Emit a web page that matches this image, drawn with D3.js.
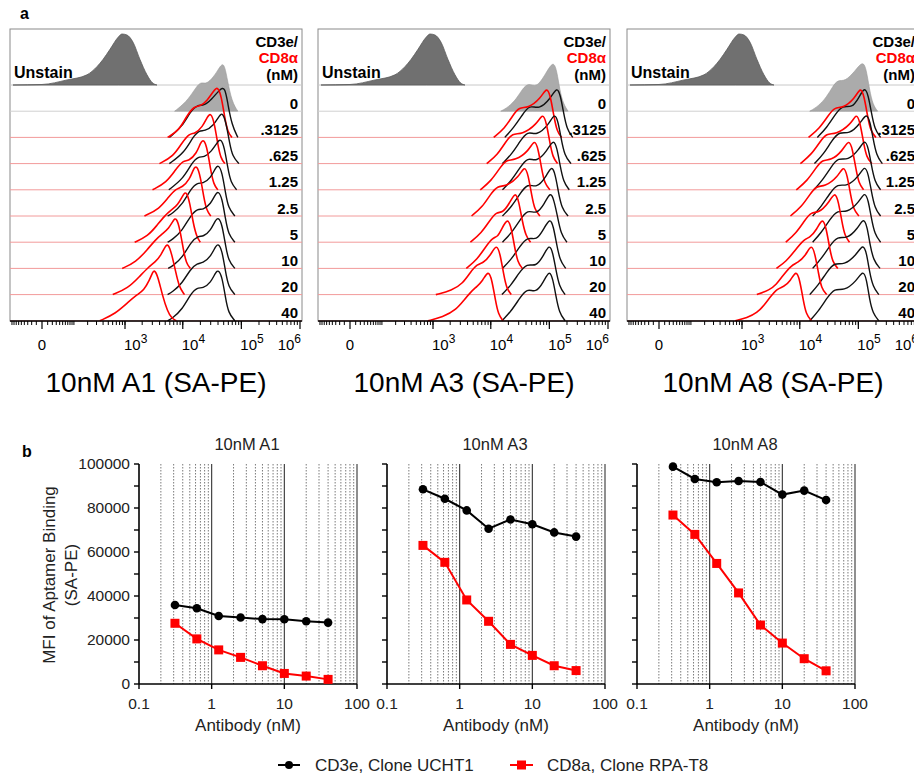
<!DOCTYPE html>
<html>
<head>
<meta charset="utf-8">
<script src="https://cdnjs.cloudflare.com/ajax/libs/d3/7.8.5/d3.min.js"></script>
<style>
body{margin:0;background:#fff;}
svg text{font-family:"Liberation Sans",Arial,sans-serif;}
</style>
</head>
<body>
<svg id="fig" width="914" height="776"></svg>
<script>
// ---------- panel a data ----------
var rowLabels = ["0", ".3125", ".625", "1.25", "2.5", "5", "10", "20", "40"];
var histTitles = ["10nM A1 (SA-PE)", "10nM A3 (SA-PE)", "10nM A8 (SA-PE)"];
var histDecades = [3, 4, 5, 6];

// unstained cells : [intensity, % of max]
var unstain = [[-85,0],[0,1],[67,10],[194,20],[306,36],[398,50],[537,70],[760,94],[884,100],[1084,98],[1384,84],[1832,50],[2424,20],[3040,4],[3600,0]];

// stained rows : [log10 intensity, % of max]
var a1Gray = [[3.86,0],[4.06,18],[4.20,42],[4.30,58],[4.39,53],[4.49,62],[4.60,80],[4.70,100],[4.76,62],[4.84,18],[4.94,0]];
var a1Black = [
 [[3.77,0],[3.99,21],[4.13,51],[4.25,64],[4.36,62],[4.49,74],[4.63,94],[4.72,100],[4.77,65],[4.84,24],[4.94,0]],
 [[3.77,0],[4.03,22],[4.17,52],[4.29,66],[4.37,63],[4.53,75],[4.63,95],[4.68,100],[4.74,80],[4.80,40],[4.85,14],[4.96,0]],
 [[3.76,0],[4.01,22],[4.15,52],[4.27,66],[4.36,63],[4.49,75],[4.60,95],[4.65,100],[4.71,84],[4.77,42],[4.82,14],[4.92,0]],
 [[3.74,0],[3.82,5],[3.99,22],[4.13,52],[4.25,66],[4.34,63],[4.48,75],[4.56,95],[4.61,100],[4.67,87],[4.73,45],[4.78,15],[4.89,0]],
 [[3.74,0],[3.82,5],[3.99,22],[4.13,52],[4.26,66],[4.34,63],[4.48,75],[4.56,95],[4.61,100],[4.67,87],[4.73,45],[4.78,15],[4.89,0]],
 [[3.75,0],[3.83,5],[4.00,22],[4.14,52],[4.27,64],[4.35,62],[4.48,75],[4.56,95],[4.61,100],[4.67,87],[4.73,45],[4.78,15],[4.89,0]],
 [[3.74,0],[3.82,5],[3.99,22],[4.13,50],[4.25,62],[4.34,61],[4.48,75],[4.56,95],[4.61,100],[4.67,87],[4.73,45],[4.78,15],[4.89,0]],
 [[3.74,0],[3.82,5],[3.99,22],[4.13,52],[4.25,66],[4.34,63],[4.48,75],[4.56,95],[4.61,100],[4.67,87],[4.73,45],[4.78,15],[4.89,0]]
];
var a1Red = [
 [[3.74,0],[3.94,14],[4.06,41],[4.20,62],[4.29,60],[4.42,72],[4.53,92],[4.60,100],[4.66,80],[4.72,36],[4.77,10],[4.84,0]],
 [[3.60,0],[3.84,14],[3.98,40],[4.12,60],[4.20,58],[4.34,72],[4.42,92],[4.48,100],[4.54,80],[4.60,36],[4.65,10],[4.72,0]],
 [[3.48,0],[3.72,14],[3.88,40],[4.01,58],[4.10,56],[4.24,72],[4.30,92],[4.36,100],[4.42,80],[4.48,36],[4.53,10],[4.60,0]],
 [[3.34,0],[3.60,14],[3.76,38],[3.89,54],[3.99,56],[4.12,72],[4.18,92],[4.24,100],[4.30,78],[4.36,36],[4.41,10],[4.48,0]],
 [[3.17,0],[3.40,12],[3.55,32],[3.69,52],[3.81,64],[3.91,72],[4.01,94],[4.06,100],[4.12,78],[4.18,36],[4.24,10],[4.30,0]],
 [[2.95,0],[3.19,12],[3.40,38],[3.53,56],[3.65,68],[3.76,78],[3.84,95],[3.89,100],[3.95,78],[4.01,36],[4.06,10],[4.13,0]],
 [[2.78,0],[3.05,12],[3.26,36],[3.41,54],[3.53,64],[3.63,78],[3.70,95],[3.75,100],[3.81,80],[3.88,44],[3.94,14],[4.03,0]],
 [[2.54,0],[2.83,14],[3.05,36],[3.22,52],[3.33,60],[3.43,80],[3.48,95],[3.52,100],[3.58,84],[3.65,50],[3.74,18],[3.81,5],[3.89,0]]
];

var a3Gray = [[4.17,0],[4.30,8],[4.44,24],[4.54,44],[4.65,56],[4.78,45],[4.94,74],[5.07,100],[5.13,78],[5.18,40],[5.24,14],[5.32,0]];
var a3Black = [
 [[4.24,0],[4.39,19],[4.53,42],[4.66,65],[4.82,54],[5.02,76],[5.13,100],[5.19,82],[5.24,50],[5.30,15],[5.40,0]],
 [[4.20,0],[4.36,19],[4.49,42],[4.63,65],[4.78,54],[4.99,76],[5.09,100],[5.15,82],[5.20,50],[5.26,15],[5.37,0]],
 [[4.20,0],[4.36,19],[4.49,42],[4.63,65],[4.78,54],[4.96,76],[5.07,100],[5.13,82],[5.18,50],[5.24,15],[5.34,0]],
 [[4.20,0],[4.36,19],[4.49,42],[4.63,65],[4.78,54],[4.94,76],[5.04,100],[5.10,82],[5.15,50],[5.21,15],[5.32,0]],
 [[4.20,0],[4.36,19],[4.49,42],[4.63,65],[4.78,54],[4.92,76],[5.02,100],[5.08,82],[5.14,50],[5.20,15],[5.30,0]],
 [[4.20,0],[4.36,19],[4.49,42],[4.63,63],[4.78,54],[4.90,76],[5.01,100],[5.07,82],[5.12,50],[5.18,15],[5.28,0]],
 [[4.19,0],[4.35,19],[4.48,42],[4.62,62],[4.77,54],[4.90,76],[5.00,100],[5.06,82],[5.11,50],[5.17,15],[5.27,0]],
 [[4.19,0],[4.35,19],[4.48,42],[4.62,65],[4.77,54],[4.90,76],[5.00,100],[5.06,82],[5.11,50],[5.17,15],[5.27,0]]
];
var a3Red = [
 [[4.05,0],[4.24,18],[4.37,42],[4.49,60],[4.63,57],[4.85,76],[4.96,100],[5.02,80],[5.08,40],[5.13,12],[5.21,0]],
 [[3.93,0],[4.12,18],[4.25,42],[4.37,60],[4.53,57],[4.78,76],[4.89,100],[4.95,80],[5.01,40],[5.06,12],[5.14,0]],
 [[3.82,0],[4.01,18],[4.15,42],[4.27,60],[4.41,57],[4.65,76],[4.75,100],[4.81,80],[4.87,40],[4.92,12],[5.01,0]],
 [[3.67,0],[3.86,18],[3.99,42],[4.12,60],[4.25,57],[4.48,76],[4.58,100],[4.64,80],[4.70,40],[4.75,12],[4.84,0]],
 [[3.65,0],[3.84,18],[3.98,42],[4.10,60],[4.20,57],[4.32,76],[4.42,100],[4.48,80],[4.54,40],[4.60,12],[4.68,0]],
 [[3.58,0],[3.77,18],[3.91,42],[4.03,60],[4.12,62],[4.18,76],[4.29,100],[4.35,80],[4.41,40],[4.46,12],[4.54,0]],
 [[3.05,0],[3.33,8],[3.52,22],[3.65,44],[3.77,60],[3.87,62],[3.99,76],[4.10,100],[4.16,80],[4.22,40],[4.27,12],[4.35,0]],
 [[2.91,0],[3.17,7],[3.41,22],[3.55,42],[3.67,58],[3.75,66],[3.86,78],[3.96,100],[4.02,80],[4.08,40],[4.13,12],[4.21,0]]
];

var a8Gray = [[4.17,0],[4.32,10],[4.46,28],[4.56,48],[4.65,62],[4.77,58],[4.94,78],[5.08,100],[5.14,80],[5.19,42],[5.25,12],[5.33,0]];
var a8Black = [
 [[4.30,0],[4.46,19],[4.60,44],[4.73,64],[4.89,57],[5.01,78],[5.11,100],[5.17,82],[5.22,50],[5.28,15],[5.38,0]],
 [[4.25,0],[4.41,19],[4.54,44],[4.68,64],[4.84,57],[5.03,78],[5.14,100],[5.20,82],[5.25,50],[5.31,15],[5.41,0]],
 [[4.24,0],[4.39,19],[4.53,44],[4.66,64],[4.82,57],[5.01,78],[5.11,100],[5.17,82],[5.22,50],[5.28,15],[5.38,0]],
 [[4.22,0],[4.37,19],[4.51,44],[4.65,64],[4.80,57],[5.01,78],[5.11,100],[5.17,82],[5.22,50],[5.28,15],[5.38,0]],
 [[4.22,0],[4.37,19],[4.51,44],[4.65,64],[4.80,57],[5.01,78],[5.11,100],[5.17,82],[5.22,48],[5.28,15],[5.38,0]],
 [[4.22,0],[4.37,19],[4.51,44],[4.65,64],[4.80,57],[4.99,78],[5.09,100],[5.15,82],[5.20,46],[5.26,15],[5.37,0]],
 [[4.17,0],[4.32,19],[4.46,44],[4.60,64],[4.75,57],[4.97,78],[5.08,100],[5.14,82],[5.19,45],[5.25,15],[5.35,0]],
 [[4.17,0],[4.32,19],[4.46,44],[4.60,65],[4.75,58],[4.97,78],[5.08,100],[5.14,82],[5.19,42],[5.25,14],[5.35,0]]
];
var a8Red = [
 [[4.15,0],[4.34,18],[4.48,42],[4.60,60],[4.73,57],[4.94,76],[5.04,100],[5.10,80],[5.16,40],[5.21,12],[5.30,0]],
 [[4.01,0],[4.20,18],[4.34,42],[4.46,60],[4.61,57],[4.87,76],[4.97,100],[5.03,80],[5.09,40],[5.14,12],[5.23,0]],
 [[3.94,0],[4.13,18],[4.27,42],[4.39,60],[4.53,57],[4.73,76],[4.84,100],[4.90,80],[4.96,40],[5.01,12],[5.09,0]],
 [[3.84,0],[4.03,18],[4.17,42],[4.29,60],[4.42,57],[4.65,76],[4.75,100],[4.81,80],[4.87,40],[4.92,12],[5.01,0]],
 [[3.76,0],[3.94,18],[4.08,42],[4.20,60],[4.32,57],[4.49,76],[4.60,100],[4.66,80],[4.72,40],[4.77,12],[4.85,0]],
 [[3.60,0],[3.77,14],[3.91,34],[4.08,58],[4.17,60],[4.29,76],[4.39,100],[4.45,80],[4.51,40],[4.56,12],[4.65,0]],
 [[3.26,0],[3.48,9],[3.60,20],[3.70,36],[3.86,58],[3.96,62],[4.10,76],[4.20,100],[4.26,80],[4.32,42],[4.37,12],[4.46,0]],
 [[2.88,0],[3.09,6],[3.26,15],[3.40,32],[3.48,45],[3.62,64],[3.72,66],[3.84,78],[3.94,100],[4.00,80],[4.06,40],[4.11,12],[4.20,0]]
];

// ---------- panel b data ----------
var antibodyNM = [0.3125, 0.625, 1.25, 2.5, 5, 10, 20, 40];
var a1CD3e = [35900, 34400, 30900, 30200, 29500, 29400, 28500, 27900];
var a1CD8a = [27600, 20500, 15500, 12100, 8300, 4800, 3600, 2100];
var a3CD3e = [88500, 84200, 78900, 70600, 74800, 72600, 68900, 67000];
var a3CD8a = [63000, 55300, 38200, 28500, 18000, 13000, 8300, 6100];
var a8CD3e = [98800, 93200, 91700, 92300, 91800, 86100, 87900, 83600];
var a8CD8a = [76800, 68000, 54800, 41400, 26800, 18600, 11500, 6000];
var mfiTitles = ["10nM A1", "10nM A3", "10nM A8"];
var mfiTicks = [0, 20000, 40000, 60000, 80000, 100000];
var antibodyTicks = [0.1, 1, 10, 100];
var legendNames = ["CD3e, Clone UCHT1", "CD8a, Clone RPA-T8"];

var svg = d3.select("#fig");

// ================= panel a =================
var histPanels = [
  {x: 10, gray: a1Gray, black: a1Black, red: a1Red},
  {x: 318, gray: a3Gray, black: a3Black, red: a3Red},
  {x: 627, gray: a8Gray, black: a8Black, red: a8Red}
];
var BOX_W = 292, BOX_TOP = 29, BOX_BOT = 321, UNSTAIN_BASE = 85, ROW_H = 26.2, PEAK_H = 51;

var hx = d3.scaleSymlog().constant(40).domain([0, 1e6]).range([32, 290]);
var hh = d3.scaleLinear().domain([0, 100]).range([0, PEAK_H]);

svg.append("text").attr("x", 20).attr("y", 19).attr("font-size", 16).attr("font-weight", "bold").text("a");

// minor tick values for the biexponential axis
var minorTicks = [];
for (var m = 1; m <= 9; m++) minorTicks.push(-m * 10);
for (var k = 1; k <= 5; k++) for (var m = 1; m <= 9; m++) minorTicks.push(m * Math.pow(10, k));

histPanels.forEach(function(p, pi) {
  var g = svg.append("g").attr("transform", "translate(" + p.x + ",0)");

  var lineLog = function(base) {
    return d3.line()
      .x(function(d) { return hx(Math.pow(10, d[0])); })
      .y(function(d) { return base - hh(d[1]); })
      .curve(d3.curveBasis);
  };
  var areaLog = function(base) {
    return d3.area()
      .x(function(d) { return hx(Math.pow(10, d[0])); })
      .y0(base)
      .y1(function(d) { return base - hh(d[1]); })
      .curve(d3.curveBasis);
  };

  // box
  g.append("rect").attr("x", 0).attr("y", BOX_TOP).attr("width", BOX_W).attr("height", BOX_BOT - BOX_TOP)
    .attr("fill", "none").attr("stroke", "#8a8a8a").attr("stroke-width", 1);

  // unstained
  g.append("line").attr("x1", 0).attr("x2", BOX_W).attr("y1", UNSTAIN_BASE).attr("y2", UNSTAIN_BASE)
    .attr("stroke", "#c8c8c8");
  g.append("path").datum(unstain)
    .attr("d", d3.area()
      .x(function(d) { return hx(d[0]); })
      .y0(UNSTAIN_BASE)
      .y1(function(d) { return UNSTAIN_BASE - hh(d[1]); })
      .curve(d3.curveMonotoneX))
    .attr("fill", "#707070").attr("stroke", "#5a5a5a").attr("stroke-width", 0.8);

  // row 0 : aptamer only
  var base0 = UNSTAIN_BASE + ROW_H;
  g.append("line").attr("x1", 0).attr("x2", BOX_W).attr("y1", base0).attr("y2", base0).attr("stroke", "#d0d0d0");
  g.append("path").datum(p.gray).attr("d", areaLog(base0))
    .attr("fill", "#ababab").attr("stroke", "#999").attr("stroke-width", 0.6);

  // antibody rows
  p.black.forEach(function(curve, i) {
    var base = UNSTAIN_BASE + (i + 2) * ROW_H;
    g.append("line").attr("x1", 0).attr("x2", BOX_W).attr("y1", base).attr("y2", base)
      .attr("stroke", "#f29a9a").attr("stroke-width", 1);
    g.append("path").datum(curve).attr("d", lineLog(base))
      .attr("fill", "none").attr("stroke", "#111").attr("stroke-width", 1.4);
    g.append("path").datum(p.red[i]).attr("d", lineLog(base))
      .attr("fill", "none").attr("stroke", "#ff0000").attr("stroke-width", 1.6);
  });

  // labels
  g.append("text").attr("x", 4).attr("y", 78).attr("font-size", 16).attr("font-weight", "bold").text("Unstain");
  var lab = g.append("g").attr("font-size", 15).attr("font-weight", "bold").attr("text-anchor", "end");
  lab.append("text").attr("x", 288).attr("y", 47).text("CD3e/");
  lab.append("text").attr("x", 288).attr("y", 63).attr("fill", "#ff0000").text("CD8α");
  lab.append("text").attr("x", 288).attr("y", 80).text("(nM)");
  rowLabels.forEach(function(r, i) {
    lab.append("text").attr("x", 288).attr("y", UNSTAIN_BASE + (i + 1) * ROW_H - 2.5).text(r);
  });

  // bottom axis
  g.append("line").attr("x1", 0).attr("x2", BOX_W).attr("y1", BOX_BOT).attr("y2", BOX_BOT)
    .attr("stroke", "#000").attr("stroke-width", 1.4);
  g.selectAll(".mt").data(minorTicks).enter().append("line")
    .attr("x1", function(d) { return hx(d); }).attr("x2", function(d) { return hx(d); })
    .attr("y1", BOX_BOT).attr("y2", BOX_BOT + 4).attr("stroke", "#000").attr("stroke-width", 1);
  var majors = [0].concat(histDecades.map(function(e) { return Math.pow(10, e); }));
  g.selectAll(".Mt").data(majors).enter().append("line")
    .attr("x1", function(d) { return hx(d); }).attr("x2", function(d) { return hx(d); })
    .attr("y1", BOX_BOT).attr("y2", BOX_BOT + 8).attr("stroke", "#000").attr("stroke-width", 1.2);

  g.append("text").attr("x", hx(0)).attr("y", 350).attr("font-size", 15).attr("text-anchor", "middle").text("0");
  histDecades.forEach(function(e) {
    var last = e === histDecades[histDecades.length - 1];
    var t = g.append("text").attr("y", 350).attr("font-size", 15)
      .attr("x", hx(Math.pow(10, e)) + (last ? 1 : -1))
      .attr("text-anchor", last ? "end" : "start");
    t.append("tspan").text("10");
    t.append("tspan").attr("dy", -7).attr("font-size", 12).text(e);
  });

  g.append("text").attr("x", BOX_W / 2).attr("y", 392).attr("font-size", 28).attr("text-anchor", "middle")
    .text(histTitles[pi]);
});

// ================= panel b =================
var mfiPanels = [
  {x: 139, cd3: a1CD3e, cd8: a1CD8a},
  {x: 387, cd3: a3CD3e, cd8: a3CD8a},
  {x: 637, cd3: a8CD3e, cd8: a8CD8a}
];
var PW = 218, PT = 464, PH = 220;
var bxs = d3.scaleLog().domain([0.1, 100]).range([0, PW]);
var bys = d3.scaleLinear().domain([0, 100000]).range([PH, 0]);

svg.append("text").attr("x", 22).attr("y", 457).attr("font-size", 16).attr("font-weight", "bold").text("b");

var gridMinor = [], gridMajor = [1, 10, 100];
[0.1, 1, 10].forEach(function(dec) { for (var m = 2; m <= 9; m++) gridMinor.push(m * dec); });
var yTicks = d3.range(0, 100001, 10000);

mfiPanels.forEach(function(p, pi) {
  var g = svg.append("g").attr("transform", "translate(" + p.x + "," + PT + ")");

  g.selectAll(".gm").data(gridMinor).enter().append("line")
    .attr("x1", function(d) { return bxs(d); }).attr("x2", function(d) { return bxs(d); })
    .attr("y1", 0).attr("y2", PH).attr("stroke", "#7a7a7a").attr("stroke-width", 1).attr("stroke-dasharray", "1.5,1.5");
  g.selectAll(".gM").data(gridMajor).enter().append("line")
    .attr("x1", function(d) { return bxs(d); }).attr("x2", function(d) { return bxs(d); })
    .attr("y1", 0).attr("y2", PH).attr("stroke", "#333").attr("stroke-width", 1.1);

  // axes
  g.append("line").attr("x1", 0).attr("x2", 0).attr("y1", 0).attr("y2", PH).attr("stroke", "#000").attr("stroke-width", 1.6);
  g.append("line").attr("x1", 0).attr("x2", PW).attr("y1", PH).attr("y2", PH).attr("stroke", "#000").attr("stroke-width", 1.6);
  g.selectAll(".yt").data(yTicks).enter().append("line")
    .attr("x1", -5).attr("x2", 0).attr("y1", function(d) { return bys(d); }).attr("y2", function(d) { return bys(d); })
    .attr("stroke", "#000").attr("stroke-width", 1.4);
  g.selectAll(".xt").data(antibodyTicks).enter().append("line")
    .attr("x1", function(d) { return bxs(d); }).attr("x2", function(d) { return bxs(d); })
    .attr("y1", PH).attr("y2", PH + 5).attr("stroke", "#000").attr("stroke-width", 1.4);

  if (pi === 0) {
    g.selectAll(".yl").data(mfiTicks).enter().append("text")
      .attr("x", -9).attr("y", function(d) { return bys(d) + 5; })
      .attr("font-size", 15.5).attr("text-anchor", "end").attr("fill", "#222").text(function(d) { return d; });
  }
  g.selectAll(".xl").data(antibodyTicks).enter().append("text")
    .attr("x", function(d) { return bxs(d); }).attr("y", PH + 25)
    .attr("font-size", 15.5).attr("text-anchor", "middle").attr("fill", "#222").text(function(d) { return d; });
  g.append("text").attr("x", PW / 2).attr("y", PH + 47).attr("font-size", 17).attr("text-anchor", "middle")
    .attr("fill", "#222").text("Antibody (nM)");
  g.append("text").attr("x", PW / 2 - 1).attr("y", -14).attr("font-size", 16.5).attr("text-anchor", "middle")
    .attr("fill", "#222").text(mfiTitles[pi]);

  var line = d3.line().x(function(d) { return bxs(d[0]); }).y(function(d) { return bys(d[1]); });
  var cd3 = d3.zip(antibodyNM, p.cd3), cd8 = d3.zip(antibodyNM, p.cd8);

  g.append("path").datum(cd3).attr("d", line).attr("fill", "none").attr("stroke", "#000").attr("stroke-width", 2);
  g.selectAll(".c3").data(cd3).enter().append("circle")
    .attr("cx", function(d) { return bxs(d[0]); }).attr("cy", function(d) { return bys(d[1]); })
    .attr("r", 4.3).attr("fill", "#000");

  g.append("path").datum(cd8).attr("d", line).attr("fill", "none").attr("stroke", "#ff0000").attr("stroke-width", 2);
  g.selectAll(".c8").data(cd8).enter().append("rect")
    .attr("x", function(d) { return bxs(d[0]) - 4.5; }).attr("y", function(d) { return bys(d[1]) - 4.5; })
    .attr("width", 9).attr("height", 9).attr("fill", "#ff0000");
});

// y axis title
svg.append("text").attr("transform", "translate(55,575) rotate(-90)").attr("font-size", 17)
  .attr("text-anchor", "middle").attr("fill", "#222").text("MFI of Aptamer Binding");
svg.append("text").attr("transform", "translate(77,575) rotate(-90)").attr("font-size", 17)
  .attr("text-anchor", "middle").attr("fill", "#222").text("(SA-PE)");

// legend
var leg = svg.append("g");
leg.append("line").attr("x1", 278).attr("x2", 300).attr("y1", 765).attr("y2", 765).attr("stroke", "#000").attr("stroke-width", 2);
leg.append("circle").attr("cx", 289).attr("cy", 765).attr("r", 4).attr("fill", "#000");
leg.append("text").attr("x", 315).attr("y", 771).attr("font-size", 17).attr("fill", "#222").text(legendNames[0]);
leg.append("line").attr("x1", 510).attr("x2", 533).attr("y1", 765).attr("y2", 765).attr("stroke", "#ff0000").attr("stroke-width", 2);
leg.append("rect").attr("x", 517).attr("y", 760.5).attr("width", 9).attr("height", 9).attr("fill", "#ff0000");
leg.append("text").attr("x", 547).attr("y", 771).attr("font-size", 17).attr("fill", "#222").text(legendNames[1]);
</script>
</body>
</html>
